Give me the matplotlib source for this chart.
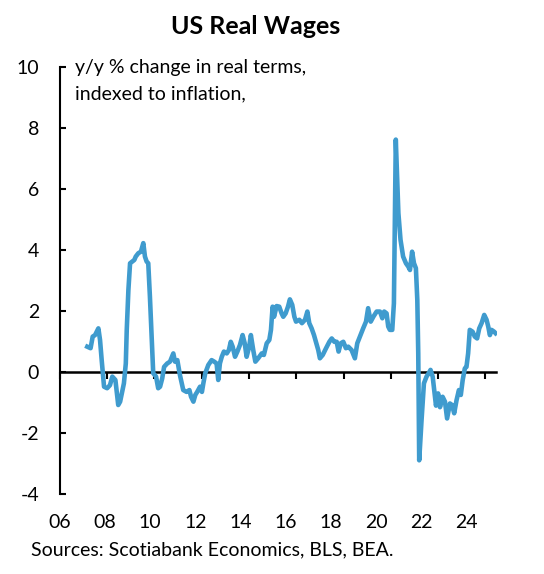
import numpy as np
import matplotlib
matplotlib.use("Agg")
import matplotlib.pyplot as plt
import matplotlib.transforms as mtransforms

plt.rcParams['font.family'] = ['Lato', 'DejaVu Sans']

# data: (decimal year, y/y % change)
dates = [2007.16, 2007.30, 2007.39, 2007.49, 2007.63, 2007.70, 2007.77, 2007.87,
         2008.00, 2008.12, 2008.22, 2008.35, 2008.40, 2008.47, 2008.55, 2008.62,
         2008.71, 2008.79, 2008.83, 2008.90, 2008.97, 2009.07, 2009.15, 2009.21,
         2009.32, 2009.43, 2009.53, 2009.60, 2009.67, 2009.74, 2009.81, 2009.89,
         2009.95, 2010.07, 2010.16, 2010.24, 2010.33, 2010.41, 2010.54, 2010.66,
         2010.80, 2010.87, 2010.97, 2011.08, 2011.22, 2011.36, 2011.48, 2011.55,
         2011.65, 2011.73, 2011.81, 2011.93, 2012.01, 2012.07, 2012.15, 2012.28,
         2012.42, 2012.53, 2012.63, 2012.70, 2012.77, 2012.85, 2012.94, 2013.06,
         2013.15, 2013.23, 2013.31, 2013.41, 2013.51, 2013.62, 2013.73, 2013.82,
         2013.90, 2014.01, 2014.08, 2014.18, 2014.27, 2014.39, 2014.54, 2014.63,
         2014.75, 2014.86, 2014.93, 2015.00, 2015.06, 2015.17, 2015.28, 2015.38,
         2015.45, 2015.55, 2015.65, 2015.73, 2015.83, 2015.92, 2015.99, 2016.13,
         2016.24, 2016.37, 2016.47, 2016.55, 2016.65, 2016.75, 2016.83, 2016.93,
         2017.00, 2017.12, 2017.26, 2017.40, 2017.50, 2017.61, 2017.71, 2017.79,
         2017.88, 2017.99, 2018.10, 2018.20, 2018.34, 2018.48, 2018.58, 2018.69,
         2018.83, 2018.95, 2019.04, 2019.15, 2019.26, 2019.40, 2019.54, 2019.64,
         2019.72, 2019.82, 2019.89, 2019.96, 2020.06, 2020.13, 2020.21, 2020.32,
         2020.41, 2020.52, 2020.64, 2020.74, 2020.81, 2020.90, 2020.98, 2021.06,
         2021.12, 2021.16, 2021.20, 2021.30, 2021.40, 2021.51, 2021.60, 2021.68,
         2021.77, 2021.82, 2021.91, 2022.00, 2022.08, 2022.19, 2022.29, 2022.38,
         2022.50, 2022.59, 2022.68, 2022.78, 2022.88, 2022.96, 2023.04, 2023.13,
         2023.20, 2023.27, 2023.34, 2023.46, 2023.55, 2023.65, 2023.74, 2023.84,
         2023.95, 2024.05, 2024.12, 2024.19, 2024.26, 2024.37, 2024.43]
real_wages = [0.83, 0.78, 1.16, 1.21, 1.43, 1.05, 0.39, -0.48,
              -0.53, -0.43, -0.15, -0.26, -0.59, -1.08, -0.97, -0.70,
              -0.37, 0.28, 1.38, 2.69, 3.56, 3.62, 3.67, 3.78,
              3.89, 3.94, 4.22, 3.78, 3.62, 3.56, 2.47, 1.05,
              -0.04, -0.15, -0.53, -0.48, -0.21, 0.17, 0.28, 0.34,
              0.61, 0.34, 0.39, -0.10, -0.59, -0.65, -0.59, -0.81,
              -0.97, -0.75, -0.65, -0.48, -0.65, -0.37, -0.04, 0.23,
              0.39, 0.34, 0.28, -0.26, 0.28, 0.50, 0.67, 0.61,
              0.72, 0.99, 0.83, 0.50, 0.67, 0.89, 1.21, 0.94,
              0.50, 0.83, 1.21, 0.72, 0.34, 0.45, 0.61, 0.56,
              0.94, 1.05, 1.38, 2.14, 1.81, 2.16, 2.14, 1.92,
              1.81, 1.92, 2.14, 2.38, 2.20, 1.81, 1.65, 1.71,
              1.60, 1.71, 1.98, 1.60, 1.43, 1.21, 0.99, 0.72,
              0.45, 0.56, 0.78, 0.99, 1.10, 0.99, 0.99, 0.67,
              0.94, 0.99, 0.78, 0.83, 0.72, 0.45, 0.94, 1.16,
              1.43, 1.65, 2.09, 1.65, 1.81, 1.98, 1.98, 1.76,
              1.98, 1.92, 1.49, 1.38, 1.38, 2.25, 7.61, 5.20,
              4.33, 3.78, 3.56, 3.45, 3.34, 3.94, 3.56, 3.40,
              2.36, 0.61, -2.89, -1.57, -0.37, -0.15, -0.04, 0.07,
              -0.15, -0.48, -1.10, -0.70, -1.15, -0.81, -0.97, -1.52,
              -1.03, -1.08, -1.35, -0.92, -0.59, -0.75, -0.26, 0.12,
              0.17, 0.61, 1.38, 1.32, 1.16, 1.10, 1.43, 1.60,
              1.87, 1.71, 1.49, 1.21, 1.38, 1.32, 1.27]

tick_years = list(range(2006, 2025, 2))
tick_labels = ['06', '08', '10', '12', '14', '16', '18', '20', '22', '24']
y_ticks = [-4, -2, 0, 2, 4, 6, 8, 10]

fig = plt.figure(figsize=(5.44, 5.74), dpi=100)
ax = fig.add_axes([0.11, 0.139, 0.804, 0.745])

ax.plot(dates, real_wages, color='#3F9BCE', lw=3.3, solid_joinstyle='round', zorder=3)

ax.set_xlim(2006, 2024.5)
ax.set_ylim(-4, 10)

for s in ['top', 'right']:
    ax.spines[s].set_visible(False)
ax.spines['left'].set_linewidth(1.5)
ax.spines['left'].set_bounds(-4, 10)
ax.spines['bottom'].set_position(('data', 0))
ax.spines['bottom'].set_linewidth(1.8)
ax.spines['bottom'].set_bounds(2006, 2024.45)
ax.spines['bottom'].set_zorder(2)

ax.set_yticks(y_ticks)
ax.set_yticklabels([str(v) for v in y_ticks])
ax.tick_params(axis='y', direction='in', length=4, width=1.5, pad=15, labelsize=14)
ax.set_xticks(tick_years)
ax.set_xticklabels([])
ax.tick_params(axis='x', direction='out', length=5, width=1.5)

# year labels sit on a slightly tighter spacing than the tick marks
trans = mtransforms.blended_transform_factory(ax.transData, fig.transFigure)
for yr, lab in zip(tick_years, tick_labels):
    xpos = 2006 + (yr - 2006) * 0.9556
    ax.text(xpos, 1 - 522 / 574, lab, transform=trans, ha='center', va='center',
            fontsize=14)

# unit note, two lines inside the plot area
fig.text(75 / 544, 1 - 68 / 574, 'y/y % change in real terms,',
         ha='left', va='center', fontsize=14)
fig.text(75 / 544, 1 - 94 / 574, 'indexed to inflation,',
         ha='left', va='center', fontsize=14)

fig.text(256 / 544, 1 - 26 / 574, 'US Real Wages', ha='center', va='center',
         fontsize=18, fontweight='bold')
fig.text(31 / 544, 1 - 550 / 574, 'Sources: Scotiabank Economics, BLS, BEA.',
         ha='left', va='center', fontsize=14)

fig.savefig('out.png', dpi=100)
